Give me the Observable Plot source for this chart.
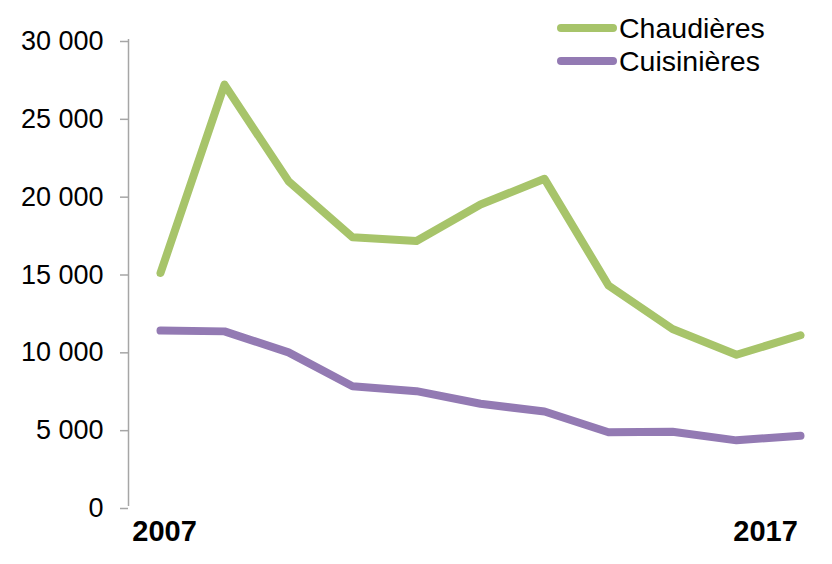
<!DOCTYPE html>
<html>
<head>
<meta charset="utf-8">
<script src="https://cdn.jsdelivr.net/npm/d3@7"></script>
<script src="https://cdn.jsdelivr.net/npm/@observablehq/plot@0.6"></script>
<style>
  body { margin: 0; background: #fff; }
  #wrap { position: relative; width: 832px; height: 564px; font-family: "Liberation Sans", Arial, sans-serif; }
  .leg { position: absolute; left: 557px; display: flex; align-items: center; font-size: 28.5px; color: #000; line-height: 30px; }
  .sw { width: 60px; height: 8px; border-radius: 4px; margin-right: 2px; }
</style>
</head>
<body>
<div id="wrap"></div>
<script>
const years = [2007, 2008, 2009, 2010, 2011, 2012, 2013, 2014, 2015, 2016, 2017];
const chaudieres = [15000, 27100, 20900, 17300, 17050, 19400, 21050, 14200, 11400, 9750, 11000];
const cuisinieres = [11300, 11250, 9900, 7730, 7410, 6600, 6100, 4770, 4800, 4250, 4550];
const seriesNames = ["Chaudières", "Cuisinières"];
const colors = ["#A7C46A", "#937AB3"];
const yTicks = [0, 5000, 10000, 15000, 20000, 25000, 30000];
const firstYear = [years[0]];
const lastYear = [years[years.length - 1]];

const data = [];
years.forEach((y, i) => {
  data.push({year: y, value: chaudieres[i], serie: seriesNames[0]});
  data.push({year: y, value: cuisinieres[i], serie: seriesNames[1]});
});

const fmt = v => d3.format(",")(v).replace(/,/g, " ");

const chart = Plot.plot({
  width: 832,
  height: 564,
  marginLeft: 128,
  marginRight: 0,
  marginTop: 39,
  marginBottom: 58,
  style: {fontFamily: "Liberation Sans, Arial, sans-serif", background: "#fff", fontSize: "27px", color: "#000"},
  x: {domain: [2006.5, 2017.5], axis: null},
  y: {domain: [0, 30000]},
  color: {domain: seriesNames, range: colors},
  marks: [
    Plot.ruleX([2006.5], {stroke: "#a6a6a6", strokeWidth: 1.5}),
    Plot.axisY({ticks: yTicks, tickFormat: fmt, tickSize: 8, tickPadding: 17, stroke: "#a6a6a6", strokeWidth: 1.5, color: "#000", label: null, dy: 2}),
    Plot.text(firstYear, {x: d => d, text: d => String(d), frameAnchor: "bottom", lineAnchor: "top", fontSize: 29, fontWeight: "bold", fill: "#000", dx: 4, dy: 14}),
    Plot.text(lastYear, {x: d => d, text: d => String(d), frameAnchor: "bottom", lineAnchor: "top", fontSize: 29, fontWeight: "bold", fill: "#000", dx: -35, dy: 14}),
    Plot.line(data, {x: "year", y: "value", z: "serie", stroke: "serie", strokeWidth: 8, strokeLinecap: "round", strokeLinejoin: "round"})
  ]
});

const wrap = document.getElementById("wrap");
wrap.appendChild(chart);
seriesNames.forEach((n, i) => {
  const d = document.createElement("div");
  d.className = "leg";
  d.style.top = (i === 0 ? 13 : 46) + "px";
  d.innerHTML = `<span class="sw" style="background:${colors[i]}"></span><span>${n}</span>`;
  wrap.appendChild(d);
});
</script>
</body>
</html>
